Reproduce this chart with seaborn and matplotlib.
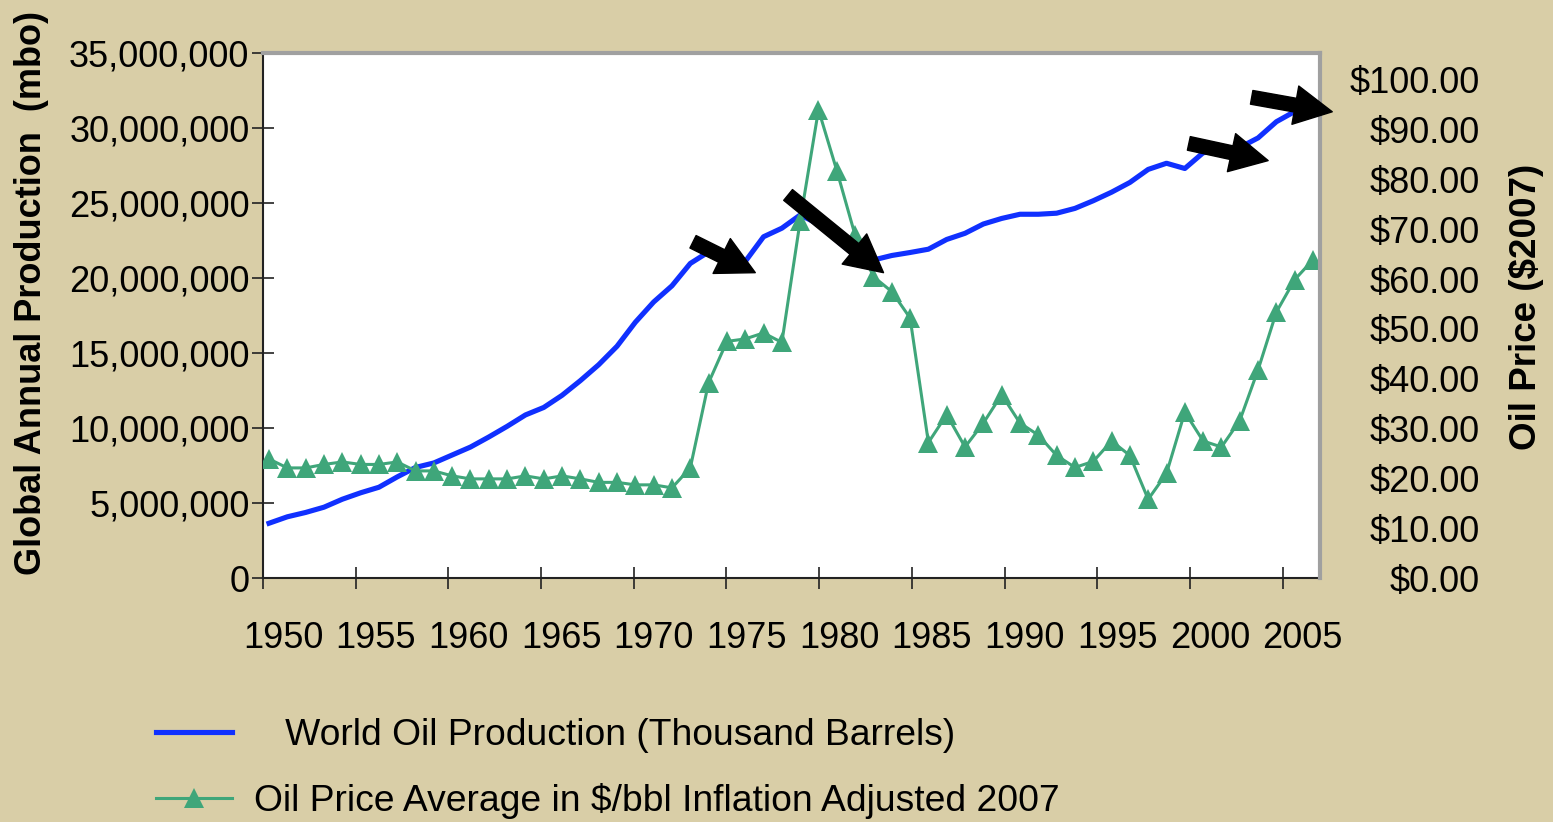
import numpy as np
import matplotlib
matplotlib.use("Agg")
import matplotlib.pyplot as plt
import matplotlib.ticker as mticker
from matplotlib.lines import Line2D
import seaborn as sns

# ---------------- data ----------------
years_price = list(range(1950, 2008))
price = [23.9, 22.1, 22.1, 22.8, 23.3, 22.8, 22.8, 23.3, 21.5, 21.5,
         20.5, 19.9, 19.9, 19.9, 20.5, 19.9, 20.5, 19.9, 19.2, 19.2,
         18.7, 18.7, 18.1, 22.1, 39.2, 47.5, 48.0, 49.2, 47.3, 71.7,
         94.0, 81.8, 68.8, 60.5, 57.5, 52.2, 27.2, 32.8, 26.3, 31.1,
         36.8, 31.1, 28.7, 24.6, 22.2, 23.4, 27.5, 24.6, 15.8, 21.0,
         33.3, 27.5, 26.3, 31.6, 41.8, 53.4, 59.9, 63.9]

years_prod = list(range(1950, 2007))
prod_millions = [3.65, 4.08, 4.37, 4.72, 5.25, 5.68, 6.05, 6.74, 7.37, 7.67,
                 8.20, 8.73, 9.40, 10.11, 10.87, 11.37, 12.18, 13.16, 14.22, 15.45,
                 17.05, 18.40, 19.48, 20.97, 21.74, 21.50, 21.10, 22.75, 23.32, 24.20,
                 23.60, 22.50, 21.50, 21.20, 21.50, 21.70, 21.92, 22.57, 22.98, 23.60,
                 23.97, 24.25, 24.25, 24.32, 24.64, 25.15, 25.72, 26.37, 27.24, 27.65,
                 27.30, 28.35, 28.50, 28.70, 29.34, 30.42, 31.10]
production = [v * 1e6 for v in prod_millions]

year_labels = ["1950", "1955", "1960", "1965", "1970", "1975",
               "1980", "1985", "1990", "1995", "2000", "2005"]
left_ticks = [0, 5e6, 10e6, 15e6, 20e6, 25e6, 30e6, 35e6]
right_ticks = [0, 10, 20, 30, 40, 50, 60, 70, 80, 90, 100]

label_prod = "   World Oil Production (Thousand Barrels)"
label_price = "Oil Price Average in $/bbl Inflation Adjusted 2007"

# arrows (tail -> tip) in (year, $) coordinates of the price axis
arrows = [((1973.15, 67.5), (1976.55, 61.3)),
          ((1978.34, 76.9), (1983.55, 61.3)),
          ((2000.22, 87.25), (2004.55, 83.8)),
          ((2003.65, 96.5), (2008.05, 93.6))]

# ---------------- style ----------------
BG = "#D9CEA7"
BLUE = "#1030FF"
GREEN = "#3FA67A"
plt.rcParams["font.family"] = ["Liberation Sans", "DejaVu Sans"]

fig = plt.figure(figsize=(15.53, 8.22), dpi=100, facecolor=BG)
ax = fig.add_axes([263 / 1553, 1 - 578 / 822, 1057 / 1553, 525 / 822])
ax.set_facecolor("white")
ax2 = ax.twinx()

sns.lineplot(x=years_prod, y=production, ax=ax, color=BLUE, linewidth=3.7,
             legend=False)
sns.lineplot(x=years_price, y=price, ax=ax2, color=GREEN, linewidth=2.2,
             marker="^", markersize=14.5, markeredgewidth=0, legend=False)

# x axis
x0 = 1949.672
xstep = 5.061
ax.set_xlim(x0, 2007.38)
major_pos = [x0 + i * xstep for i in range(len(year_labels))]
minor_pos = [p + 1.09 for p in major_pos]
ax.set_xticks(major_pos)
ax.set_xticklabels([])
ax.set_xticks(minor_pos, minor=True)
ax.set_xticklabels(year_labels, minor=True)
ax.tick_params(axis="x", which="major", direction="inout", length=16,
               width=1.2, color="#222222")
ax.tick_params(axis="x", which="minor", length=0, pad=31, labelsize=26)

# left y axis
ax.set_ylim(0, 35e6)
ax.set_yticks(left_ticks)
ax.yaxis.set_major_formatter(mticker.FuncFormatter(lambda v, p: f"{v:,.0f}"))
ax.tick_params(axis="y", direction="inout", length=16, width=1.2,
               color="#222222", labelsize=26, pad=1.7)

# right y axis
ax2.set_ylim(0, 105.4)
ax2.set_yticks(right_ticks)
ax2.yaxis.set_major_formatter(mticker.FuncFormatter(lambda v, p: f"${v:,.2f}"))
ax2.tick_params(axis="y", length=0, labelsize=26, pad=115)
for t in ax2.yaxis.get_major_ticks():
    t.label2.set_horizontalalignment("right")

for a in (ax, ax2):
    a.set_xlabel("")
    a.set_ylabel("")

# spines
ax.spines["left"].set_color("#222222")
ax.spines["left"].set_linewidth(1.5)
ax.spines["bottom"].set_color("#222222")
ax.spines["bottom"].set_linewidth(1.5)
ax.spines["top"].set_color("#A0A0A0")
ax.spines["top"].set_linewidth(3)
ax.spines["right"].set_visible(False)
for s in ("left", "bottom", "top"):
    ax2.spines[s].set_visible(False)
ax2.spines["right"].set_color("#A0A0A0")
ax2.spines["right"].set_linewidth(3)

# arrows
for tail, tip in arrows:
    ax2.annotate("", xy=tip, xytext=tail, xycoords="data", textcoords="data",
                 annotation_clip=False, zorder=10,
                 arrowprops=dict(arrowstyle="simple,head_length=2.7,head_width=2.8,tail_width=1.0",
                                 mutation_scale=10, fc="black", ec="black",
                                 shrinkA=0, shrinkB=0, clip_on=False))

# axis titles
fig.text(32 / 1553, 1 - 293 / 822, "Global Annual Production  (mbo)",
         rotation=90, ha="center", va="center", fontsize=26, fontweight="bold")
fig.text(1526 / 1553, 1 - 307 / 822, "Oil Price ($2007)",
         rotation=90, ha="center", va="center", fontsize=26.5, fontweight="bold")

# legend
h1 = Line2D([], [], color=BLUE, linewidth=3.7)
h2 = Line2D([], [], color=GREEN, linewidth=2.2, marker="^", markersize=14.5,
            markeredgewidth=0)
fig.legend([h1, h2], [label_prod, label_price], loc="upper left",
           bbox_to_anchor=(156 / 1553, 1 - 718 / 822), frameon=False,
           fontsize=26.8, handlelength=2.03, handletextpad=0.59,
           borderpad=0, borderaxespad=0, labelspacing=0.8)

fig.savefig("out.png", dpi=100, facecolor=BG)
